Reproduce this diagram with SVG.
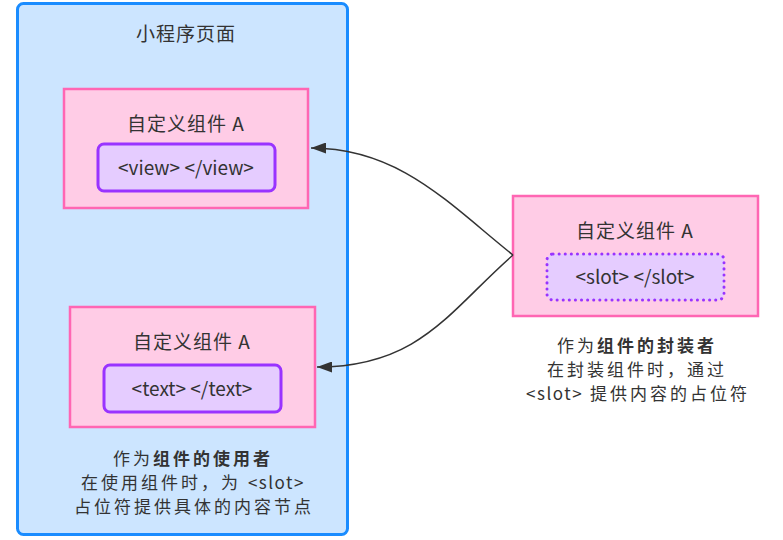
<svg xmlns="http://www.w3.org/2000/svg" width="783" height="540" viewBox="0 0 783 540">
<defs>
<style>
text{font-family:"Noto Sans CJK SC","Liberation Sans",sans-serif;font-size:19px;fill:#333;text-anchor:middle;letter-spacing:1px;}
.lat{letter-spacing:0;}
.note{font-size:17px;letter-spacing:3px;}
.nl{letter-spacing:1.5px;}
.b{font-weight:bold;}
.page{fill:#cce5ff;stroke:#1a8cff;stroke-width:3;}
.comp{fill:#ffcce6;stroke:#ff66b3;stroke-width:2.5;}
.inner{fill:#e5ccff;stroke:#9933ff;stroke-width:3;}
.slot{fill:#e5ccff;stroke:#9933ff;stroke-width:3;stroke-dasharray:0.1 6;stroke-linecap:round;}
.conn{fill:none;stroke:#333;stroke-width:1.5;}
</style>
<marker id="arr" viewBox="0 0 15 11" refX="15" refY="5.5" markerWidth="15" markerHeight="11" markerUnits="userSpaceOnUse" orient="auto">
<path d="M0,0 L15,5.5 L0,11 Z" fill="#333"/>
</marker>
</defs>
<rect width="783" height="540" fill="#fff"/>
<g id="page">
<rect class="page" x="17.5" y="3.5" width="330" height="531" rx="6"/>
<text x="186" y="41">小程序页面</text>
</g>
<g id="compA-top">
<rect class="comp" x="64" y="89" width="244" height="119"/>
<text x="186" y="131">自定义组件 A</text>
<rect class="inner" x="98" y="144" width="177" height="47" rx="6"/>
<text class="lat" x="186" y="175">&lt;view&gt; &lt;/view&gt;</text>
</g>
<g id="compA-bottom">
<rect class="comp" x="70" y="307" width="245" height="120"/>
<text x="192" y="349">自定义组件 A</text>
<rect class="inner" x="104" y="365" width="177" height="47" rx="6"/>
<text class="lat" x="192" y="396">&lt;text&gt; &lt;/text&gt;</text>
</g>
<g id="user-note">
<text class="note" x="193" y="465">作为<tspan class="b">组件的使用者</tspan></text>
<text class="note" x="193" y="489">在使用组件时，为 <tspan class="nl">&lt;slot&gt;</tspan></text>
<text class="note" x="194" y="513">占位符提供具体的内容节点</text>
</g>
<g id="compA-right">
<rect class="comp" x="513" y="196" width="245" height="120"/>
<text x="635" y="238">自定义组件 A</text>
<rect class="slot" x="547" y="254" width="177" height="46" rx="6"/>
<text class="lat" x="635" y="284">&lt;slot&gt; &lt;/slot&gt;</text>
</g>
<g id="author-note">
<text class="note" x="637" y="352">作为<tspan class="b">组件的封装者</tspan></text>
<text class="note" x="637" y="376">在封装组件时，通过</text>
<text class="note" x="638" y="400"><tspan class="nl">&lt;slot&gt;</tspan> 提供内容的占位符</text>
</g>
<g id="connectors">
<path class="conn" d="M513,255 C450,205 400,148 311,148" marker-end="url(#arr)"/>
<path class="conn" d="M513,255 C450,310 420,367 317,367" marker-end="url(#arr)"/>
</g>
</svg>
